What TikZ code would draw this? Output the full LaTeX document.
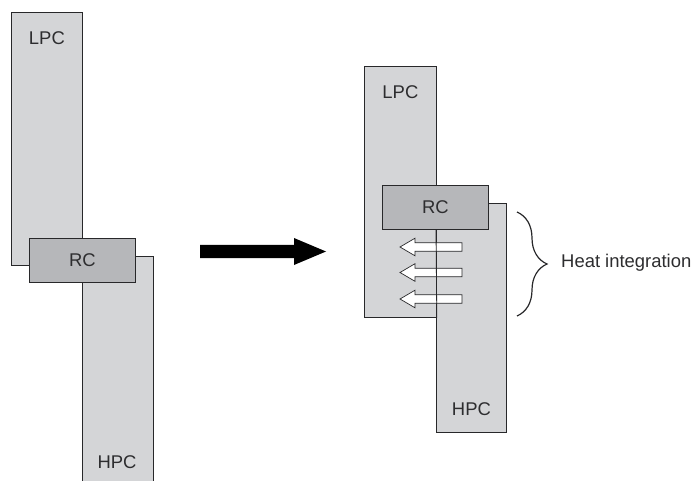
\documentclass[tikz,border=0pt]{standalone}
\usepackage{fontspec}
\setmainfont{Liberation Sans}
\usepackage{tikz}
\usetikzlibrary{positioning, calc, decorations.pathreplacing}
\definecolor{mydark}{RGB}{40,40,42}
\definecolor{colgray}{RGB}{212,213,215}
\definecolor{rcgray}{RGB}{182,183,186}
\definecolor{txtgray}{RGB}{45,45,47}
\tikzset{
  colbox/.style={rectangle, draw=mydark, fill=colgray, line width=0.8pt,
    anchor=north west, inner sep=0pt},
  rcbox/.style={rectangle, draw=mydark, fill=rcgray, line width=0.8pt,
    anchor=north west, inner sep=0pt, minimum width=106bp, minimum height=44bp},
  tag/.style={font=\fontsize{18.5}{20}\selectfont, text=txtgray, inner sep=0pt},
  hollow/.style={draw=mydark, fill=white, line width=0.7pt, line join=miter},
  brace/.style={decorate, decoration={brace, amplitude=30bp}, line width=1.2pt, color=mydark}
}

\begin{document}
\begin{tikzpicture}[x=1bp, y=-1bp]
  \useasboundingbox (0,0) rectangle (695,481);
  \clip (0,0) rectangle (695,481);

  % Separate columns
  \node[colbox, minimum width=71bp, minimum height=253bp] (lpcA) at (11,12) {};
  \node[colbox, minimum width=71bp, minimum height=240bp] (hpcA) at (82,256) {};
  \node[rcbox] (rcA) at (29,238) {};
  \node[tag] (lpcAtxt) at ($(lpcA.north)+(0,26)$) {LPC};
  \node[tag] (rcAtxt) at (rcA.center) {RC};
  \node[tag] (hpcAtxt) at (117,462) {HPC};

  % Transition arrow
  \fill[black] (200,245) -- (294,245) -- (294,238) -- (326,251.5)
    -- (294,265) -- (294,258) -- (200,258) -- cycle;

  % Heat integrated columns
  \node[colbox, minimum width=72bp, minimum height=251bp] (lpcB) at (364,66) {};
  \node[colbox, minimum width=70bp, minimum height=229bp] (hpcB) at (436,203) {};
  \node[rcbox] (rcB) at (382,185) {};
  \node[tag] (lpcBtxt) at ($(lpcB.north)+(0,26)$) {LPC};
  \node[tag] (rcBtxt) at (rcB.center) {RC};
  \node[tag] (hpcBtxt) at ($(hpcB.south)+(0,-24)$) {HPC};

  % Heat flow from HPC to LPC
  \foreach \yy in {247,272.5,299} {
    \draw[hollow] (400,\yy) -- (415,\yy-8.8) -- (415,\yy-4.2) -- (462,\yy-4.2)
      -- (462,\yy+4.2) -- (415,\yy+4.2) -- (415,\yy+8.8) -- cycle;
  }
  \draw[line width=0.8pt, mydark] (rcB.south -| hpcB.west) -- (lpcB.south east);

  % Brace
  \node[tag, anchor=west] (heat) at (561,263) {Heat integration};
  \coordinate (brtop) at (517,212);
  \coordinate (brbot) at (517,316);
  \draw[brace] (brtop) -- (brbot);
\end{tikzpicture}
\end{document}
